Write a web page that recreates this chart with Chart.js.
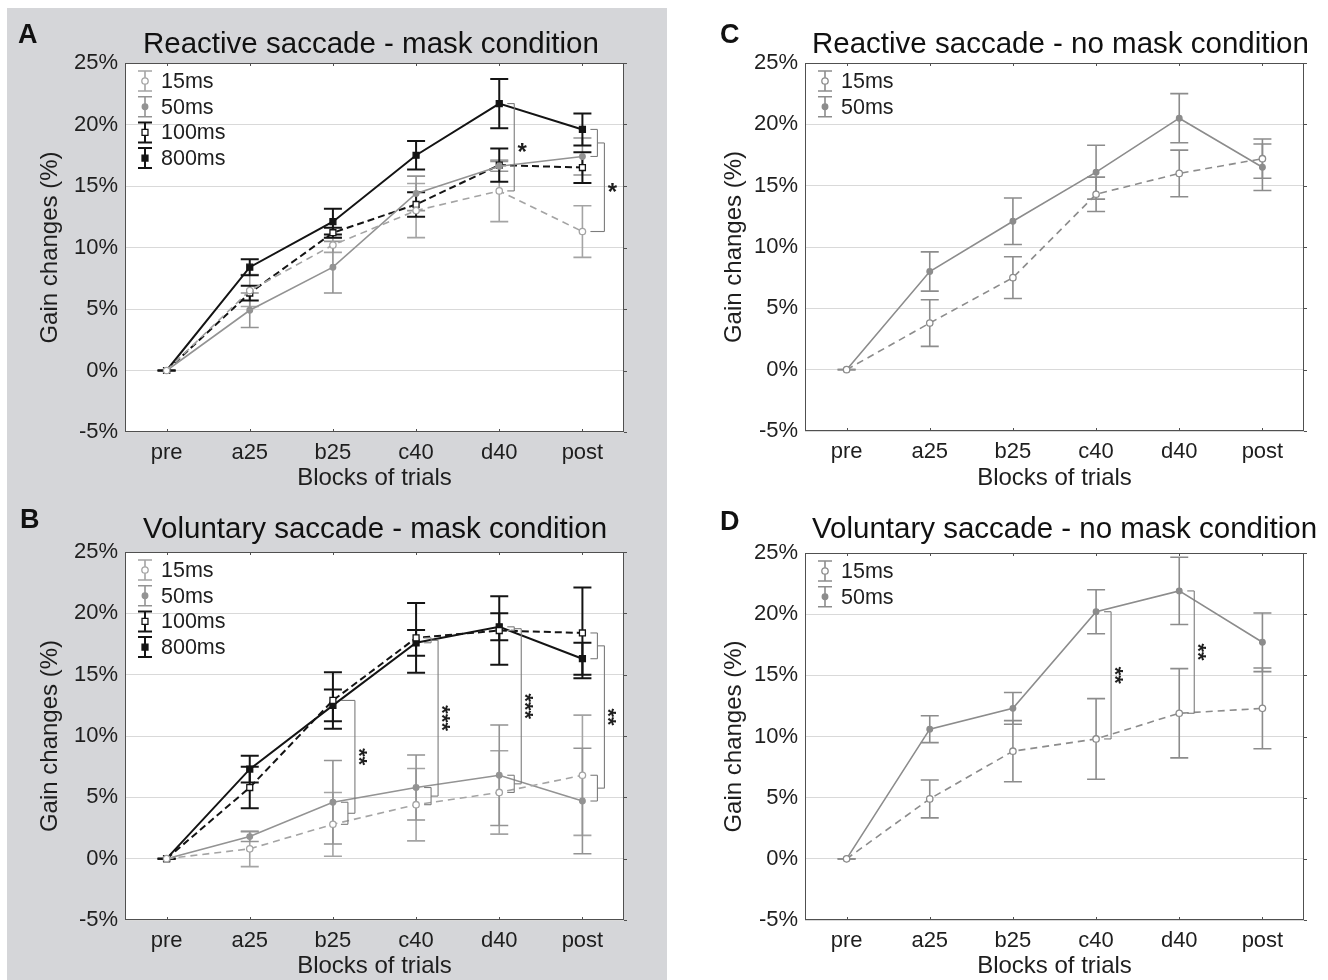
<!DOCTYPE html>
<html>
<head>
<meta charset="utf-8">
<script src="https://cdn.jsdelivr.net/npm/chart.js@4.4.1/dist/chart.umd.min.js"></script>
<style>
  html, body { margin: 0; padding: 0; background: #fff; }
  #page { position: relative; width: 1328px; height: 980px; overflow: hidden; }
  #shade { position: absolute; left: 7px; top: 8px; width: 660px; height: 972px; background: #d5d6d9; }
  .panel { position: absolute; width: 664px; height: 490px; }
</style>
</head>
<body>
<div id="page">
  <div id="shade"></div>
  <div class="panel" style="left:0;top:0"><canvas id="cA"></canvas></div>
  <div class="panel" style="left:0;top:490px"><canvas id="cB"></canvas></div>
  <div class="panel" style="left:664px;top:0"><canvas id="cC"></canvas></div>
  <div class="panel" style="left:664px;top:490px"><canvas id="cD"></canvas></div>
</div>
<script>
// 各ブロックでのゲイン変化（%）と誤差（±）

const blocks = ['pre', 'a25', 'b25', 'c40', 'd40', 'post'];
const yTicks = [-5, 0, 5, 10, 15, 20, 25];

// A: reactive saccade, mask
const reactMask15 = [0, 6.5, 10.2, 13.0, 14.6, 11.3];
const reactMask15Err = [0, 1.3, 0.6, 2.2, 2.5, 2.1];
const reactMask50 = [0, 4.9, 8.4, 14.4, 16.6, 17.4];
const reactMask50Err = [0, 1.4, 2.1, 1.4, 0.4, 1.5];
const reactMask100 = [0, 6.3, 11.2, 13.5, 16.7, 16.5];
const reactMask100Err = [0, 0.6, 0.4, 1.0, 1.35, 1.25];
const reactMask800 = [0, 8.4, 12.1, 17.5, 21.7, 19.6];
const reactMask800Err = [0, 0.65, 1.05, 1.15, 2.0, 1.3];

// B: voluntary saccade, mask
const volMask15 = [0, 0.8, 2.8, 4.4, 5.4, 6.8];
const volMask15Err = [0, 1.45, 2.6, 2.95, 3.4, 4.9];
const volMask50 = [0, 1.8, 4.6, 5.8, 6.8, 4.7];
const volMask50Err = [0, 0.4, 3.4, 2.65, 4.1, 4.3];
const volMask100 = [0, 5.8, 12.9, 18.0, 18.6, 18.4];
const volMask100Err = [0, 1.7, 2.3, 2.85, 2.8, 3.7];
const volMask800 = [0, 7.3, 12.5, 17.6, 18.9, 16.3];
const volMask800Err = [0, 1.1, 1.3, 1.05, 1.1, 1.3];

// C: reactive saccade, no mask
const reactNoMask15 = [0, 3.8, 7.5, 14.3, 16.0, 17.2];
const reactNoMask15Err = [0, 1.9, 1.7, 1.4, 1.9, 1.6];
const reactNoMask50 = [0, 8.0, 12.1, 16.1, 20.5, 16.5];
const reactNoMask50Err = [0, 1.6, 1.9, 2.2, 2.0, 1.9];

// D: voluntary saccade, no mask
const volNoMask15 = [0, 4.9, 8.8, 9.8, 11.9, 12.3];
const volNoMask15Err = [0, 1.55, 2.5, 3.3, 3.65, 3.3];
const volNoMask50 = [0, 10.6, 12.3, 20.2, 21.9, 17.7];
const volNoMask50Err = [0, 1.1, 1.3, 1.8, 2.75, 2.4];

// 有意差の括弧（ブロック番号と比較する系列）
const sigA = [
  { cat: 4, top: [reactMask800], bottom: [reactMask15], mark: '*' },
  { cat: 5, top: [reactMask800, reactMask50], bottom: [reactMask15], mark: '*' },
];
const sigB = [
  { cat: 2, top: [volMask100], bottom: [volMask50, volMask15], mark: '**' },
  { cat: 3, top: [volMask100, volMask800], bottom: [volMask50, volMask15], mark: '***' },
  { cat: 4, top: [volMask800, volMask100], bottom: [volMask50, volMask15], mark: '***' },
  { cat: 5, top: [volMask100, volMask800], bottom: [volMask15, volMask50], mark: '**' },
];
const sigD = [
  { cat: 3, top: [volNoMask50], bottom: [volNoMask15], mark: '**' },
  { cat: 4, top: [volNoMask50], bottom: [volNoMask15], mark: '**' },
];

const FONT = '"Liberation Sans", Arial, sans-serif';

const STYLE = {
  m15:  { color: '#a4a4a4', dash: [7, 5], marker: 'circle', radius: 3.2, fill: '#ffffff', width: 1.6 },
  m50:  { color: '#939393', dash: [], marker: 'circle', radius: 2.8, fill: '#939393', width: 1.6 },
  m100: { color: '#141414', dash: [7, 4], marker: 'rect', radius: 4.2, fill: '#ffffff', width: 2 },
  m800: { color: '#141414', dash: [], marker: 'rect', radius: 4.2, fill: '#141414', width: 2 },
  n15:  { color: '#8c8c8c', dash: [7, 5], marker: 'circle', radius: 3.2, fill: '#ffffff', width: 1.6 },
  n50:  { color: '#8c8c8c', dash: [], marker: 'circle', radius: 2.8, fill: '#8c8c8c', width: 1.6 },
};

function drawErr(ctx, x, y1, y2, half, color, w) {
  ctx.strokeStyle = color;
  ctx.lineWidth = w;
  ctx.setLineDash([]);
  ctx.beginPath();
  ctx.moveTo(x, y1); ctx.lineTo(x, y2);
  ctx.moveTo(x - half, y1); ctx.lineTo(x + half, y1);
  ctx.moveTo(x - half, y2); ctx.lineTo(x + half, y2);
  ctx.stroke();
}

function drawMarker(ctx, ds, x, y) {
  const r = ds.pointRadius;
  ctx.setLineDash([]);
  ctx.beginPath();
  if (ds.pointStyle === 'rect') {
    const h = r * Math.SQRT1_2;
    ctx.rect(x - h, y - h, 2 * h, 2 * h);
  } else {
    ctx.arc(x, y, r, 0, Math.PI * 2);
  }
  ctx.fillStyle = ds.pointBackgroundColor;
  ctx.fill();
  ctx.lineWidth = ds.pointBorderWidth;
  ctx.strokeStyle = ds.pointBorderColor;
  ctx.stroke();
}

// 白い描画領域と枠
const framePlugin = {
  id: 'frame',
  beforeDraw(chart) {
    const { ctx, chartArea: a } = chart;
    ctx.save();
    ctx.fillStyle = '#ffffff';
    ctx.fillRect(a.left, a.top, a.right - a.left, a.bottom - a.top);
    ctx.restore();
  },
  afterDraw(chart) {
    const { ctx, chartArea: a, scales: { x, y } } = chart;
    ctx.save();
    ctx.strokeStyle = '#505050';
    ctx.lineWidth = 1;
    ctx.strokeRect(a.left + 0.5, a.top + 0.5, a.right - a.left - 1, a.bottom - a.top - 1);
    ctx.beginPath();
    blocks.forEach((b, i) => {
      const px = Math.round(x.getPixelForValue(i)) + 0.5;
      ctx.moveTo(px, a.bottom); ctx.lineTo(px, a.bottom - 3);
      ctx.moveTo(px, a.top); ctx.lineTo(px, a.top + 3);
    });
    yTicks.forEach(v => {
      const py = Math.round(y.getPixelForValue(v)) + 0.5;
      ctx.moveTo(a.right, py); ctx.lineTo(a.right + 3, py);
    });
    ctx.stroke();
    ctx.restore();
  }
};

const errorBarPlugin = {
  id: 'errorBars',
  beforeDatasetsDraw(chart) {
    const { ctx, scales: { y } } = chart;
    ctx.save();
    chart.data.datasets.forEach((ds, i) => {
      const meta = chart.getDatasetMeta(i);
      ds.data.forEach((v, j) => {
        const e = ds.errors[j];
        const px = meta.data[j].x;
        drawErr(ctx, px, y.getPixelForValue(v + e), y.getPixelForValue(v - e), 9, ds.borderColor, ds.borderWidth);
      });
    });
    ctx.restore();
  }
};

const legendPlugin = {
  id: 'errLegend',
  afterDraw(chart) {
    const { ctx, chartArea: a } = chart;
    ctx.save();
    chart.data.datasets.forEach((ds, i) => {
      const yy = a.top + 18 + i * 25.7;
      const x0 = a.left + 20;
      drawErr(ctx, x0, yy - 10, yy + 10, 7, ds.borderColor, ds.borderWidth);
      drawMarker(ctx, ds, x0, yy);
      ctx.fillStyle = '#1e1e1e';
      ctx.font = '21.5px ' + FONT;
      ctx.textAlign = 'left';
      ctx.textBaseline = 'middle';
      ctx.fillText(ds.label, a.left + 36, yy + 1);
    });
    ctx.restore();
  }
};

const sigPlugin = {
  id: 'sig',
  afterDatasetsDraw(chart, args, opts) {
    if (!opts.items) return;
    const { ctx, scales: { x, y } } = chart;
    ctx.save();
    ctx.strokeStyle = '#7c7c7c';
    ctx.lineWidth = 1.1;
    ctx.setLineDash([]);
    const seg = (x1, y1, x2, y2) => { ctx.beginPath(); ctx.moveTo(x1, y1); ctx.lineTo(x2, y2); ctx.stroke(); };
    opts.items.forEach(it => {
      const cx = x.getPixelForValue(it.cat);
      const single = it.top.length === 1 && it.bottom.length === 1;
      const main = cx + (single ? 15 : 22);
      const end = (list) => {
        const ps = list.map(s => y.getPixelForValue(s[it.cat]));
        if (ps.length === 1) { seg(cx + 8, ps[0], main, ps[0]); return ps[0]; }
        ps.forEach(p => seg(cx + 8, p, cx + 15, p));
        seg(cx + 15, ps[0], cx + 15, ps[1]);
        const mid = (ps[0] + ps[1]) / 2;
        seg(cx + 15, mid, main, mid);
        return mid;
      };
      const t = end(it.top), b = end(it.bottom);
      seg(main, t, main, b);
      const my = (t + b) / 2;
      ctx.fillStyle = '#1e1e1e';
      ctx.textAlign = 'center';
      ctx.textBaseline = 'middle';
      if (opts.rotate) {
        ctx.font = 'bold 22px ' + FONT;
        ctx.save();
        ctx.translate(main + 3, my);
        ctx.rotate(Math.PI / 2);
        ctx.fillText(it.mark, 0, 0);
        ctx.restore();
      } else {
        ctx.font = 'bold 24px ' + FONT;
        ctx.fillText(it.mark, main + 8, my + 6);
      }
    });
    ctx.restore();
  }
};

// パネル記号とタイトル
const headPlugin = {
  id: 'head',
  afterDraw(chart, args, opts) {
    const { ctx, chartArea: a } = chart;
    ctx.save();
    ctx.fillStyle = '#111';
    ctx.textBaseline = 'middle';
    ctx.textAlign = 'left';
    ctx.font = 'bold 27px ' + FONT;
    ctx.fillText(opts.letter, opts.letterX, opts.letterY);
    ctx.font = '29.5px ' + FONT;
    ctx.fillText(opts.title, a.left + opts.titleDx, opts.titleY);
    ctx.restore();
  }
};

function makePanel(id, p) {
  const datasets = p.series.map(s => ({
    label: s.label,
    data: s.values,
    errors: s.errors,
    borderColor: s.style.color,
    borderWidth: s.style.width,
    borderDash: s.style.dash,
    pointStyle: s.style.marker,
    pointRadius: s.style.radius,
    pointBackgroundColor: s.style.fill,
    pointBorderColor: s.style.color,
    pointBorderWidth: 1.3,
    tension: 0,
    fill: false,
  }));
  return new Chart(document.getElementById(id), {
    type: 'line',
    data: { labels: blocks, datasets },
    plugins: [framePlugin, errorBarPlugin, sigPlugin, legendPlugin, headPlugin],
    options: {
      responsive: true,
      maintainAspectRatio: false,
      animation: false,
      layout: { padding: { top: p.top, right: p.right, left: 0, bottom: 0 } },
      plugins: {
        legend: { display: false },
        tooltip: { enabled: false },
        title: { display: false },
        sig: { items: p.sig, rotate: p.rotate },
        head: p.head,
      },
      scales: {
        x: {
          type: 'category',
          offset: true,
          grid: { display: false },
          border: { display: false },
          ticks: { color: '#1e1e1e', font: { family: FONT, size: 22 }, padding: 0, maxRotation: 0 },
          title: { display: true, text: 'Blocks of trials', color: '#1e1e1e', font: { family: FONT, size: 24 }, padding: { top: 0, bottom: p.xTitlePad } },
          afterFit: s => { s.height = p.xHeight; },
        },
        y: {
          min: -5,
          max: 25,
          afterBuildTicks: s => { s.ticks = yTicks.map(v => ({ value: v })); },
          grid: { color: '#d9d9d9', lineWidth: 1, drawTicks: false },
          border: { display: false },
          ticks: { color: '#1e1e1e', font: { family: FONT, size: 22 }, padding: 7, callback: v => v + '%' },
          title: { display: true, text: 'Gain changes (%)', color: '#1e1e1e', font: { family: FONT, size: 24 }, padding: { top: p.yTitlePad, bottom: 0 } },
          afterFit: s => { s.width = p.yWidth; },
        },
      },
    },
  });
}

makePanel('cA', {
  top: 63, right: 40, xHeight: 58, xTitlePad: -3, yWidth: 125, yTitlePad: 36,
  sig: sigA, rotate: false,
  head: { letter: 'A', letterX: 18, letterY: 36, title: 'Reactive saccade - mask condition', titleDx: 18, titleY: 45 },
  series: [
    { label: '15ms', values: reactMask15, errors: reactMask15Err, style: STYLE.m15 },
    { label: '50ms', values: reactMask50, errors: reactMask50Err, style: STYLE.m50 },
    { label: '100ms', values: reactMask100, errors: reactMask100Err, style: STYLE.m100 },
    { label: '800ms', values: reactMask800, errors: reactMask800Err, style: STYLE.m800 },
  ],
});

makePanel('cB', {
  top: 62, right: 40, xHeight: 60, xTitlePad: -1, yWidth: 125, yTitlePad: 36,
  sig: sigB, rotate: true,
  head: { letter: 'B', letterX: 20, letterY: 31, title: 'Voluntary saccade - mask condition', titleDx: 18, titleY: 40 },
  series: [
    { label: '15ms', values: volMask15, errors: volMask15Err, style: STYLE.m15 },
    { label: '50ms', values: volMask50, errors: volMask50Err, style: STYLE.m50 },
    { label: '100ms', values: volMask100, errors: volMask100Err, style: STYLE.m100 },
    { label: '800ms', values: volMask800, errors: volMask800Err, style: STYLE.m800 },
  ],
});

makePanel('cC', {
  top: 63, right: 24, xHeight: 59, xTitlePad: -3, yWidth: 141, yTitlePad: 56,
  sig: [], rotate: false,
  head: { letter: 'C', letterX: 56, letterY: 36, title: 'Reactive saccade - no mask condition', titleDx: 7, titleY: 45 },
  series: [
    { label: '15ms', values: reactNoMask15, errors: reactNoMask15Err, style: STYLE.n15 },
    { label: '50ms', values: reactNoMask50, errors: reactNoMask50Err, style: STYLE.n50 },
  ],
});

makePanel('cD', {
  top: 63, right: 24, xHeight: 60, xTitlePad: -1, yWidth: 141, yTitlePad: 56,
  sig: sigD, rotate: true,
  head: { letter: 'D', letterX: 56, letterY: 33, title: 'Voluntary saccade - no mask condition', titleDx: 7, titleY: 40 },
  series: [
    { label: '15ms', values: volNoMask15, errors: volNoMask15Err, style: STYLE.n15 },
    { label: '50ms', values: volNoMask50, errors: volNoMask50Err, style: STYLE.n50 },
  ],
});
</script>
</body>
</html>
